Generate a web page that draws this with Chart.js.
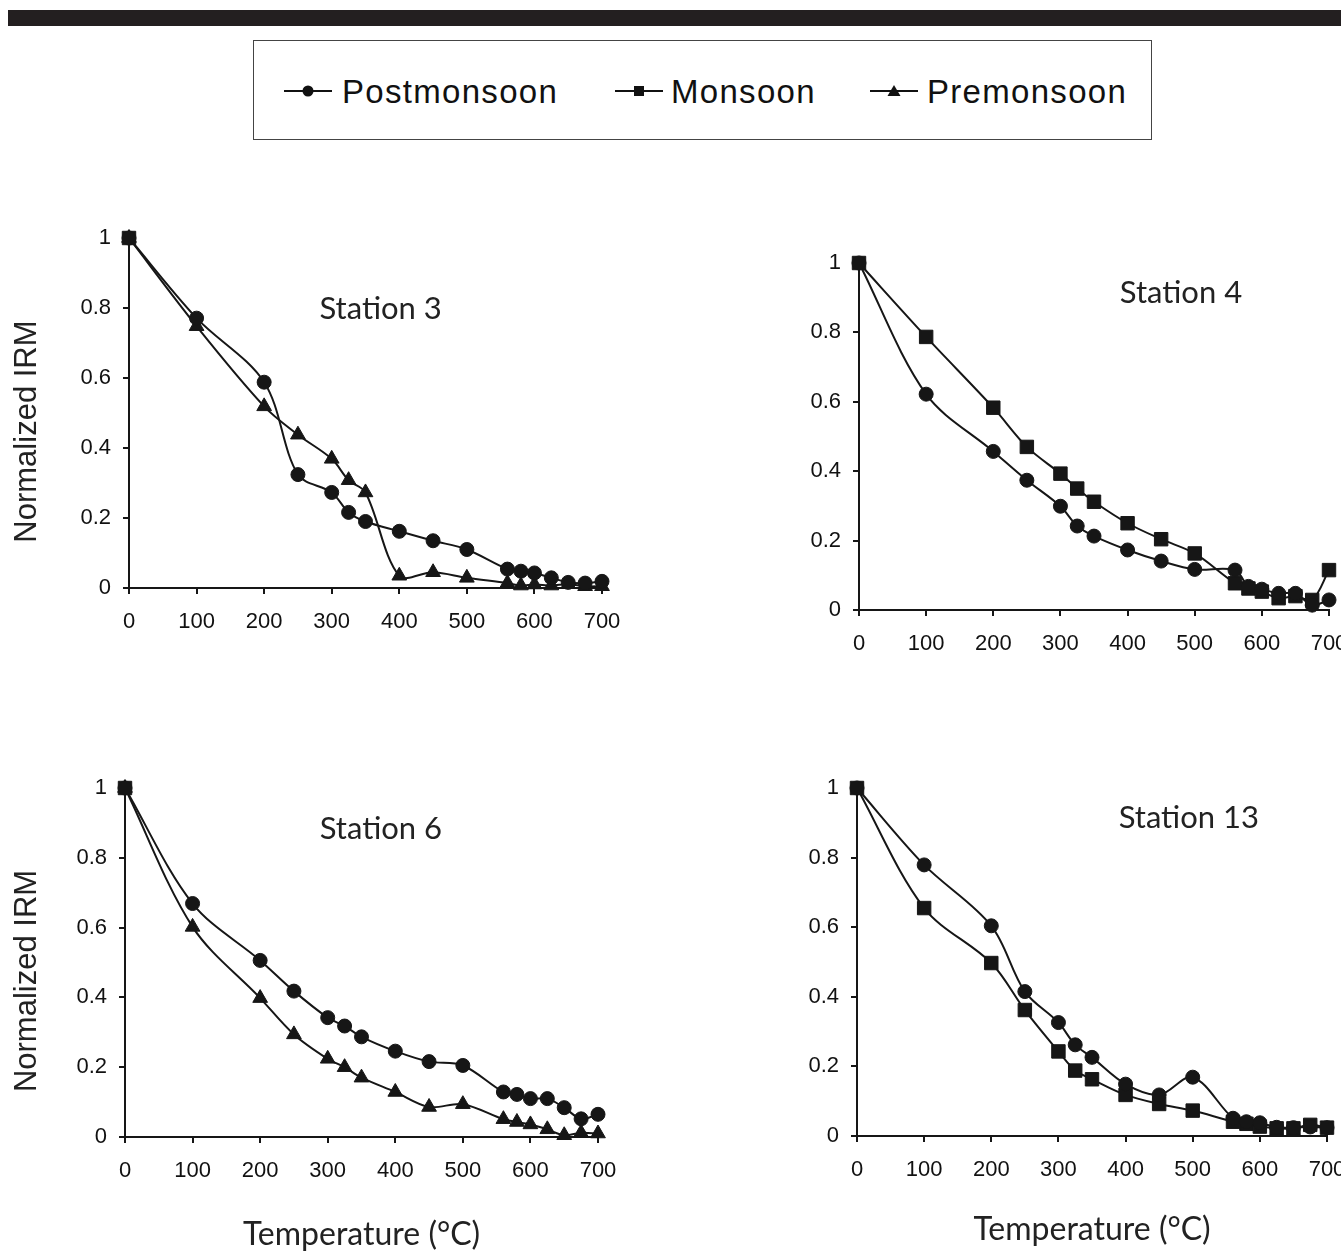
<!DOCTYPE html>
<html>
<head>
<meta charset="utf-8">
<script src="https://cdn.jsdelivr.net/npm/chart.js@4"></script>
<style>
html,body{margin:0;padding:0;background:#fff;}
body{width:1341px;height:1252px;overflow:hidden;position:relative;}
.band{position:absolute;left:8px;top:10px;width:1333px;height:16px;background:#231f20;}
.legend{position:absolute;left:253px;top:40px;width:897px;height:98px;border:1px solid #444;background:#fff;}
.legend svg{position:absolute;top:40px;}
.legend span{position:absolute;top:31px;font-family:"Liberation Sans",Arial,sans-serif;font-size:33px;line-height:40px;color:#111;letter-spacing:1.3px;white-space:nowrap;}
.panel{position:absolute;}
</style>
</head>
<body>
<div class="band"></div>
<div class="legend" id="legend"></div>
<canvas id="c3" class="panel"></canvas>
<canvas id="c4" class="panel"></canvas>
<canvas id="c6" class="panel"></canvas>
<canvas id="c13" class="panel"></canvas>
<script>
// ---------------- DATA ----------------
const temperatures = [0,100,200,250,300,325,350,400,450,500,560,580,600,625,650,675,700];
const xTickLabels = ['0','100','200','300','400','500','600','700'];
const yTickLabels = ['0','0.2','0.4','0.6','0.8','1'];
const seasons = ['Postmonsoon','Monsoon','Premonsoon'];
const stations = ['Station 3','Station 4','Station 6','Station 13'];

const st3Postmonsoon = [1,0.771,0.588,0.324,0.273,0.216,0.190,0.162,0.135,0.110,0.054,0.048,0.043,0.029,0.016,0.014,0.019];
const st3Monsoon     = [1,null,null,null,null,null,null,null,null,null,null,null,null,null,null,null,null];
const st3Premonsoon  = [1,0.748,0.519,0.438,0.369,0.308,0.273,0.035,0.045,0.029,0.014,0.007,0.010,0.007,0.011,0.005,0.005];

const st4Postmonsoon = [1,0.622,0.457,0.374,0.299,0.242,0.213,0.173,0.141,0.117,0.115,0.068,0.060,0.048,0.048,0.014,0.029];
const st4Monsoon     = [1,0.787,0.583,0.470,0.393,0.350,0.312,0.250,0.204,0.163,0.077,0.062,0.053,0.034,0.040,0.029,0.115];
const st4Premonsoon  = [null,null,null,null,null,null,null,null,null,null,null,null,null,null,null,null,null];

const st6Postmonsoon = [1,0.669,0.506,0.418,0.342,0.318,0.287,0.246,0.216,0.205,0.129,0.122,0.110,0.110,0.084,0.052,0.065];
const st6Monsoon     = [1,null,null,null,null,null,null,null,null,null,null,null,null,null,null,null,null];
const st6Premonsoon  = [1,0.602,0.398,0.294,0.224,0.200,0.170,0.129,0.086,0.094,0.051,0.043,0.036,0.022,0.005,0.012,0.010];

const st13Postmonsoon = [1,0.779,0.604,0.415,0.326,0.262,0.226,0.149,0.118,0.169,0.051,0.041,0.038,0.025,0.024,0.026,0.024];
const st13Monsoon     = [1,0.655,0.497,0.362,0.243,0.188,0.163,0.118,0.092,0.073,0.041,0.035,0.027,0.022,0.022,0.032,0.024];
const st13Premonsoon  = [null,null,null,null,null,null,null,null,null,null,null,null,null,null,null,null,null];

// ---------------- STYLE / LAYOUT ----------------
const INK = '#161616';
const markerStyles = [
  {pointStyle:'circle', radius:7},
  {pointStyle:'rect', radius:9.5},
  {pointStyle:'triangle', radius:8.5}
];
const PAD_TOP = 30, PAD_RIGHT = 40;
const Y_TITLE = 'Normalized IRM';

const panels = [
  {id:'c3',  name:stations[0], series:[st3Postmonsoon,st3Monsoon,st3Premonsoon],   CL:0,   PL:129, PT:238, PR:602, PB:588,  yTitle:true,  xTitle:false, fx:0.532, fy:0.203},
  {id:'c4',  name:stations[1], series:[st4Postmonsoon,st4Monsoon,st4Premonsoon],   CL:780, PL:859, PT:263, PR:1329, PB:610, yTitle:false, xTitle:false, fx:0.685, fy:0.086},
  {id:'c6',  name:stations[2], series:[st6Postmonsoon,st6Monsoon,st6Premonsoon],   CL:0,   PL:125, PT:788, PR:598, PB:1137, yTitle:true,  xTitle:true,  fx:0.541, fy:0.117},
  {id:'c13', name:stations[3], series:[st13Postmonsoon,st13Monsoon,st13Premonsoon], CL:780, PL:857, PT:788, PR:1327, PB:1136, yTitle:false, xTitle:true, fx:0.706, fy:0.086}
];

const panelText = {
  id:'panelText',
  afterDatasetsDraw(chart, args, opts){
    const {ctx, chartArea:a} = chart;
    ctx.save();
    ctx.font = '31px Lato';
    ctx.fillStyle = '#222';
    ctx.textAlign = 'center';
    ctx.textBaseline = 'middle';
    ctx.fillText(opts.text, a.left + opts.fx*(a.right-a.left), a.top + opts.fy*(a.bottom-a.top));
    if (opts.yTitle) {
      ctx.translate(27, (a.top + a.bottom)/2 + 0.053*(a.bottom-a.top));
      ctx.rotate(-Math.PI/2);
      ctx.font = '31px "Liberation Sans", Arial, sans-serif';
      ctx.fillText(opts.yTitle, 0, 0);
    }
    ctx.restore();
  }
};

function toPoints(vals){
  const out = [];
  vals.forEach((v,i)=>{ if(v!==null) out.push({x:temperatures[i], y:v}); });
  return out;
}

panels.forEach(p=>{
  const XH = p.xTitle ? (p.PB===1137 ? 121 : 117) : 50;
  const canvas = document.getElementById(p.id);
  const top = p.PT - PAD_TOP;
  const w = p.PR + PAD_RIGHT - p.CL;
  const h = p.PB + XH - top;
  canvas.width = w; canvas.height = h;
  canvas.style.left = p.CL + 'px';
  canvas.style.top = top + 'px';
  canvas.style.width = w + 'px';
  canvas.style.height = h + 'px';

  const datasets = p.series.map((vals, k)=>({
    label: seasons[k],
    data: toPoints(vals),
    borderColor: INK,
    backgroundColor: INK,
    borderWidth: 2,
    pointStyle: markerStyles[k].pointStyle,
    pointRadius: markerStyles[k].radius,
    pointBackgroundColor: INK,
    pointBorderColor: INK,
    pointBorderWidth: 1,
    tension: 0.33,
    clip: false
  }));

  new Chart(canvas, {
    type:'line',
    data:{datasets},
    plugins:[panelText],
    options:{
      responsive:false,
      animation:false,
      events:[],
      layout:{padding:{left:0, top:PAD_TOP, right:PAD_RIGHT, bottom:0}},
      plugins:{
        legend:{display:false},
        tooltip:{enabled:false},
        panelText:{text:p.name, fx:p.fx, fy:p.fy, yTitle: p.yTitle ? Y_TITLE : null}
      },
      scales:{
        x:{
          type:'linear', min:0, max:700,
          afterFit(s){ s.height = XH; },
          border:{display:true, color:INK, width:2},
          grid:{display:true, drawOnChartArea:false, drawTicks:true, tickLength:6, color:INK, lineWidth:2},
          ticks:{stepSize:100, padding:15, color:'#111', maxRotation:0,
                 font:{family:'"Liberation Sans", Arial, sans-serif', size:22},
                 callback:(v)=> xTickLabels[Math.round(v/100)] },
          title:{display:p.xTitle, text:'Temperature (°C)', color:'#222',
                 font:{family:'Lato', size:32}, padding:{top:4,bottom:4}}
        },
        y:{
          type:'linear', min:0, max:1,
          afterFit(s){ s.width = p.PL - p.CL; },
          border:{display:true, color:INK, width:2},
          grid:{display:true, drawOnChartArea:false, drawTicks:true, tickLength:6, color:INK, lineWidth:2},
          ticks:{stepSize:0.2, padding:12, color:'#111',
                 font:{family:'"Liberation Sans", Arial, sans-serif', size:22},
                 callback:(v)=> yTickLabels[Math.round(v*5)] }
        }
      }
    }
  });
});

// ---------------- LEGEND ----------------
const legendPos = [{m:30, t:88},{m:361, t:417},{m:616, t:673}];
const legend = document.getElementById('legend');
const markerSvg = [
  '<circle cx="24" cy="10" r="5.5" fill="#111"/>',
  '<rect x="19" y="5" width="10" height="10" fill="#111"/>',
  '<polygon points="24,4 30.5,15 17.5,15" fill="#111"/>'
];
seasons.forEach((s,k)=>{
  const svg = document.createElementNS('http://www.w3.org/2000/svg','svg');
  svg.setAttribute('width','48'); svg.setAttribute('height','20');
  svg.style.left = legendPos[k].m + 'px';
  svg.innerHTML = '<line x1="0" y1="10" x2="48" y2="10" stroke="#111" stroke-width="2"/>' + markerSvg[k];
  legend.appendChild(svg);
  const sp = document.createElement('span');
  sp.textContent = s;
  sp.style.left = legendPos[k].t + 'px';
  legend.appendChild(sp);
});
</script>
</body>
</html>
